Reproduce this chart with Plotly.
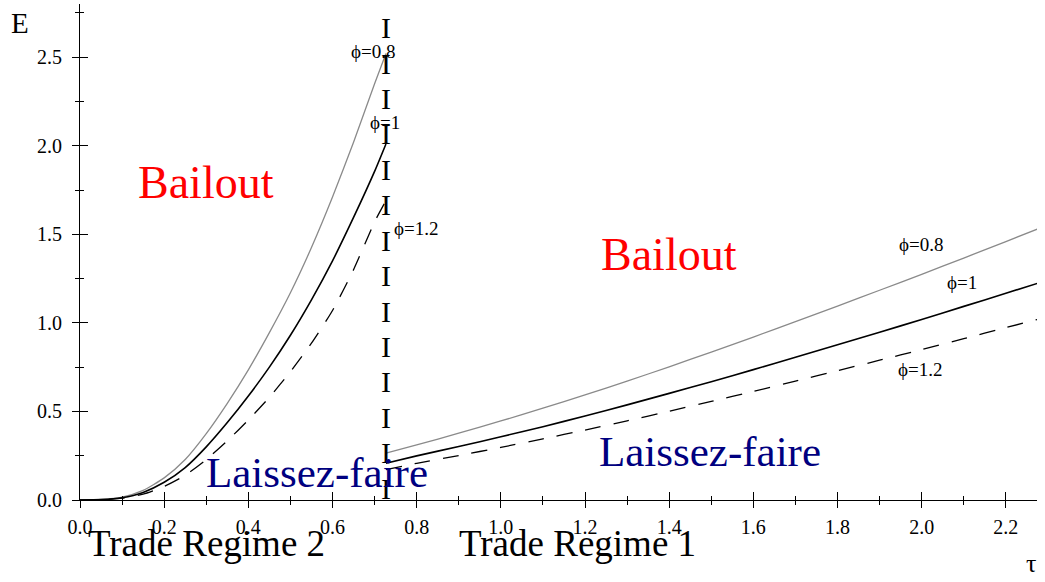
import plotly.graph_objects as go

# ---------------- data ----------------
tau_left = [0, 0.05, 0.1, 0.15, 0.2, 0.25, 0.3, 0.35, 0.4, 0.45, 0.5, 0.55, 0.6, 0.65, 0.7, 0.727]
E_left_phi08 = [0, 0.003, 0.016, 0.054, 0.125, 0.229, 0.375, 0.546, 0.735, 0.945, 1.17, 1.425, 1.71, 2.02, 2.35, 2.52]
E_left_phi10 = [0, 0.002, 0.013, 0.043, 0.10, 0.183, 0.30, 0.437, 0.587, 0.75, 0.93, 1.13, 1.35, 1.595, 1.855, 2.01]
E_left_phi12 = [0, 0.0015, 0.01, 0.033, 0.077, 0.14, 0.228, 0.334, 0.452, 0.58, 0.725, 0.885, 1.07, 1.30, 1.57, 1.69]

tau_right = [0.727, 0.8, 0.9, 1.0, 1.1, 1.2, 1.3, 1.4, 1.5, 1.6, 1.7, 1.8, 1.9, 2.0, 2.1, 2.2, 2.275]
E_right_phi08 = [0.264, 0.311, 0.377, 0.446, 0.518, 0.593, 0.671, 0.752, 0.835, 0.920, 1.007, 1.095, 1.184, 1.274, 1.366, 1.459, 1.529]
E_right_phi10 = [0.207, 0.249, 0.302, 0.357, 0.414, 0.474, 0.537, 0.602, 0.668, 0.736, 0.806, 0.876, 0.947, 1.019, 1.093, 1.167, 1.223]
E_right_phi12 = [0.172, 0.207, 0.251, 0.297, 0.345, 0.395, 0.447, 0.501, 0.557, 0.613, 0.671, 0.730, 0.789, 0.849, 0.911, 0.973, 1.019]

# regime boundary (drawn as a column of "I" marks)
tau_boundary = 0.727
E_boundary_marks = [0.05, 0.25, 0.45, 0.65, 0.85, 1.05, 1.25, 1.45, 1.65, 1.85, 2.05, 2.25, 2.45, 2.65]

x_ticks = [0.0, 0.2, 0.4, 0.6, 0.8, 1.0, 1.2, 1.4, 1.6, 1.8, 2.0, 2.2]
y_ticks = [0.0, 0.5, 1.0, 1.5, 2.0, 2.5]

SERIF = "Liberation Serif, Times New Roman, serif"
GRAY = "#8a8a8a"

fig = go.Figure()

def add_curve(x, y, color, width, dash):
    fig.add_trace(go.Scatter(x=x, y=y, mode="lines", line=dict(color=color, width=width, dash=dash, shape="spline", smoothing=0.6),
                             showlegend=False, hoverinfo="skip"))

add_curve(tau_left, E_left_phi08, GRAY, 1.3, "solid")
add_curve(tau_left, E_left_phi10, "black", 1.6, "solid")
add_curve(tau_left, E_left_phi12, "black", 1.3, "16px,13px")
add_curve(tau_right, E_right_phi08, GRAY, 1.3, "solid")
add_curve(tau_right, E_right_phi10, "black", 1.6, "solid")
add_curve(tau_right, E_right_phi12, "black", 1.3, "16px,13px")

fig.add_trace(go.Scatter(x=[tau_boundary] * len(E_boundary_marks), y=E_boundary_marks, mode="text",
                         text=["I"] * len(E_boundary_marks), textposition="middle center",
                         textfont=dict(family=SERIF, size=30, color="black"),
                         showlegend=False, hoverinfo="skip", cliponaxis=False))

# invisible trace for overlay axes (crossing ticks)
fig.add_trace(go.Scatter(x=[0], y=[0], mode="markers", marker=dict(opacity=0), xaxis="x2", yaxis="y2",
                         showlegend=False, hoverinfo="skip"))

XR = [0, 2.274]
YR = [0, 2.80]

fig.update_layout(
    width=1045, height=582,
    margin=dict(l=80, r=8, t=4, b=82),
    paper_bgcolor="white", plot_bgcolor="white",
    font=dict(family=SERIF, color="black", size=20),
    xaxis=dict(range=XR, showgrid=False, zeroline=False, showline=True, linecolor="black", linewidth=1.2,
               tickvals=x_ticks, ticktext=[f"{v:.1f}" for v in x_ticks], ticks="outside", ticklen=7, tickwidth=1.2,
               tickcolor="black", tickfont=dict(family=SERIF, size=20), ticklabelstandoff=2,
               minor=dict(dtick=0.1, tick0=0, ticks="outside", ticklen=4, tickcolor="black", tickwidth=1.2)),
    yaxis=dict(range=YR, showgrid=False, zeroline=False, showline=True, linecolor="black", linewidth=1.2,
               tickvals=y_ticks, ticktext=[f"{v:.1f}" for v in y_ticks], ticks="outside", ticklen=7, tickwidth=1.2,
               tickcolor="black", tickfont=dict(family=SERIF, size=20), ticklabelstandoff=6,
               minor=dict(dtick=0.25, tick0=0, ticks="outside", ticklen=4, tickcolor="black", tickwidth=1.2)),
    xaxis2=dict(range=XR, overlaying="x", anchor="y2", side="bottom", showgrid=False, zeroline=False, showline=False,
                tickvals=x_ticks, showticklabels=False, ticks="inside", ticklen=8, tickwidth=1.2, tickcolor="black",
                minor=dict(dtick=0.1, tick0=0, ticks="inside", ticklen=4, tickcolor="black", tickwidth=1.2)),
    yaxis2=dict(range=YR, overlaying="y", anchor="x2", side="left", showgrid=False, zeroline=False, showline=False,
                tickvals=y_ticks, showticklabels=False, ticks="inside", ticklen=8, tickwidth=1.2, tickcolor="black",
                minor=dict(dtick=0.25, tick0=0, ticks="inside", ticklen=4, tickcolor="black", tickwidth=1.2)),
    showlegend=False,
)

def label(x, y, text, size, color="black"):
    fig.add_annotation(x=x, y=y, xref="x", yref="y", text=text, showarrow=False,
                       font=dict(family=SERIF, size=size, color=color), xanchor="center", yanchor="middle")

def plabel(x, y, text, size, color="black"):
    fig.add_annotation(x=x, y=y, xref="paper", yref="paper", text=text, showarrow=False,
                       font=dict(family=SERIF, size=size, color=color), xanchor="center", yanchor="middle")

label(0.300, 1.79, "Bailout", 46, "#ff0000")
label(1.400, 1.384, "Bailout", 46, "#ff0000")
label(0.562, 0.158, "Laissez-faire", 43, "#000080")
label(1.497, 0.271, "Laissez-faire", 43, "#000080")

label(0.697, 2.53, "ϕ=0.8", 19)
label(0.725, 2.13, "ϕ=1", 19)
label(0.799, 1.53, "ϕ=1.2", 19)
label(1.998, 1.44, "ϕ=0.8", 19)
label(2.096, 1.226, "ϕ=1", 19)
label(1.996, 0.734, "ϕ=1.2", 19)

plabel(0.1324, -0.0867, "Trade Regime 2", 37)
plabel(0.520, -0.0867, "Trade Regime 1", 37)
plabel(-0.0627, 0.962, "E", 29)
plabel(0.994, -0.128, "τ", 26)

fig.write_html("out.html", config={"displayModeBar": False},
               post_script="document.body.style.margin='0px';document.body.style.overflow='hidden';")
